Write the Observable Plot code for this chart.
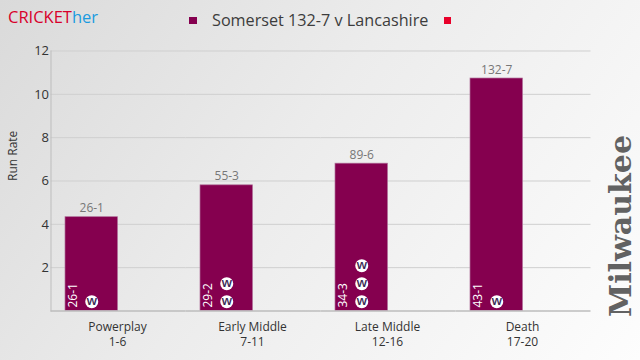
<!DOCTYPE html>
<html>
<head>
<meta charset="utf-8">
<script src="https://cdn.jsdelivr.net/npm/d3@7"></script>
<script src="https://cdn.jsdelivr.net/npm/@observablehq/plot@0.6"></script>
<style>
html,body{margin:0;padding:0}
body{width:640px;height:360px;overflow:hidden;position:relative;background:linear-gradient(125deg,#dadada 0%,#ececec 45%,#fdfdfd 100%);font-family:"Open Sans",sans-serif;color:#333}
#head{height:40px;position:relative}
#brand{position:absolute;left:8px;top:5px;font-size:16.5px;color:#d8002a}
#brand span{color:#1a9be0}
#legend{position:absolute;left:189px;top:9px;font-size:16.2px;line-height:22px;color:#3c3c3c;white-space:nowrap}
#legend i{display:inline-block;width:7.5px;height:7.5px;vertical-align:2px}
#logo{position:absolute;left:601px;top:137px;height:180px;writing-mode:vertical-rl;transform:rotate(180deg);font:bold 30px "DejaVu Serif",serif;color:#626262;line-height:40px;white-space:nowrap}
svg{display:block;background:transparent}
</style>
</head>
<body>
<div id="head">
  <div id="brand">CRICKET<span>her</span></div>
  <div id="legend"><i style="background:#85004f"></i><span style="margin:0 15.5px">Somerset 132-7 v Lancashire</span><i style="background:#e8002a"></i></div>
</div>
<div id="chart"></div>
<div id="logo">Milwaukee</div>
<script>
const phases = ["Powerplay\n1-6", "Early Middle\n7-11", "Late Middle\n12-16", "Death\n17-20"];
const teams = ["Somerset", "Lancashire"];
const runRates = [4.33, 5.8, 6.8, 10.73];
const cumulative = ["26-1", "55-3", "89-6", "132-7"];
const phaseScores = ["26-1", "29-2", "34-3", "43-1"];
const wicketCounts = [1, 2, 3, 1];
const wicketLevels = [0.43, 1.26, 2.09];
const gridValues = [2, 4, 6, 8, 10, 12];

const bars = phases.map((phase, i) => ({
  phase, team: teams[0], rate: runRates[i],
  total: cumulative[i], score: phaseScores[i]
}));
const wickets = bars.flatMap((b, i) =>
  wicketLevels.slice(0, wicketCounts[i]).map(level => ({phase: b.phase, team: b.team, level}))
);

const font = '"Open Sans",sans-serif';
const chart = Plot.plot({
  width: 640,
  height: 320,
  marginLeft: 50.5,
  marginRight: 49.5,
  marginTop: 10.5,
  marginBottom: 49.5,
  style: {background: "transparent", fontFamily: font, color: "#333"},
  fx: {domain: phases, padding: 0, label: null, round: false},
  x: {domain: teams, paddingInner: 0, paddingOuter: 0.2857, axis: null, round: false},
  y: {domain: [0, 12], label: null},
  marks: [
    Plot.ruleY(gridValues, {stroke: "#cfcfcf", strokeOpacity: 1, strokeWidth: 1}),
    Plot.axisFx({anchor: "bottom", tickSize: 0, tickPadding: 10, dx: -1, fontSize: 12, lineHeight: 1.2, label: null, tickFormat: d => d, fill: "#333"}),
    Plot.axisY({ticks: gridValues, anchor: "left", tickSize: 0, tickPadding: 2, fontSize: 13, label: null, fill: "#333", facetAnchor: "left"}),
    Plot.barY(bars, {fx: "phase", x: "team", y: "rate", dx: -0.5, fill: "#85004f", stroke: "#b0709a", strokeWidth: 0.7}),
    Plot.ruleY([0], {stroke: "#bdbdbd", strokeWidth: 1.5}),
    Plot.text(bars, {fx: "phase", x: "team", y: "rate", text: "total", lineAnchor: "bottom", dx: -0.5, dy: -5, fontSize: 12, fill: "#777"}),
    Plot.text(bars, {fx: "phase", x: "team", y: 0, text: "score", rotate: -90, textAnchor: "start", dx: -19, dy: -3.5, fontSize: 12, fill: "#fff"}),
    Plot.dot(wickets, {fx: "phase", x: "team", y: "level", dx: -0.5, r: 6.5, fill: "#fff"}),
    Plot.text(wickets, {fx: "phase", x: "team", y: "level", text: () => "w", dx: -0.5, fontSize: 13, fontWeight: 600, fill: "#3a2a55", dy: -1}),
    Plot.frame({anchor: "left", facetAnchor: "left", stroke: "#bdbdbd"}),
    Plot.text(["Run Rate"], {frameAnchor: "left", facetAnchor: "left", rotate: -90, dx: -37.5, fontSize: 12, fill: "#333"})
  ]
});
document.getElementById("chart").append(chart);
</script>
</body>
</html>
